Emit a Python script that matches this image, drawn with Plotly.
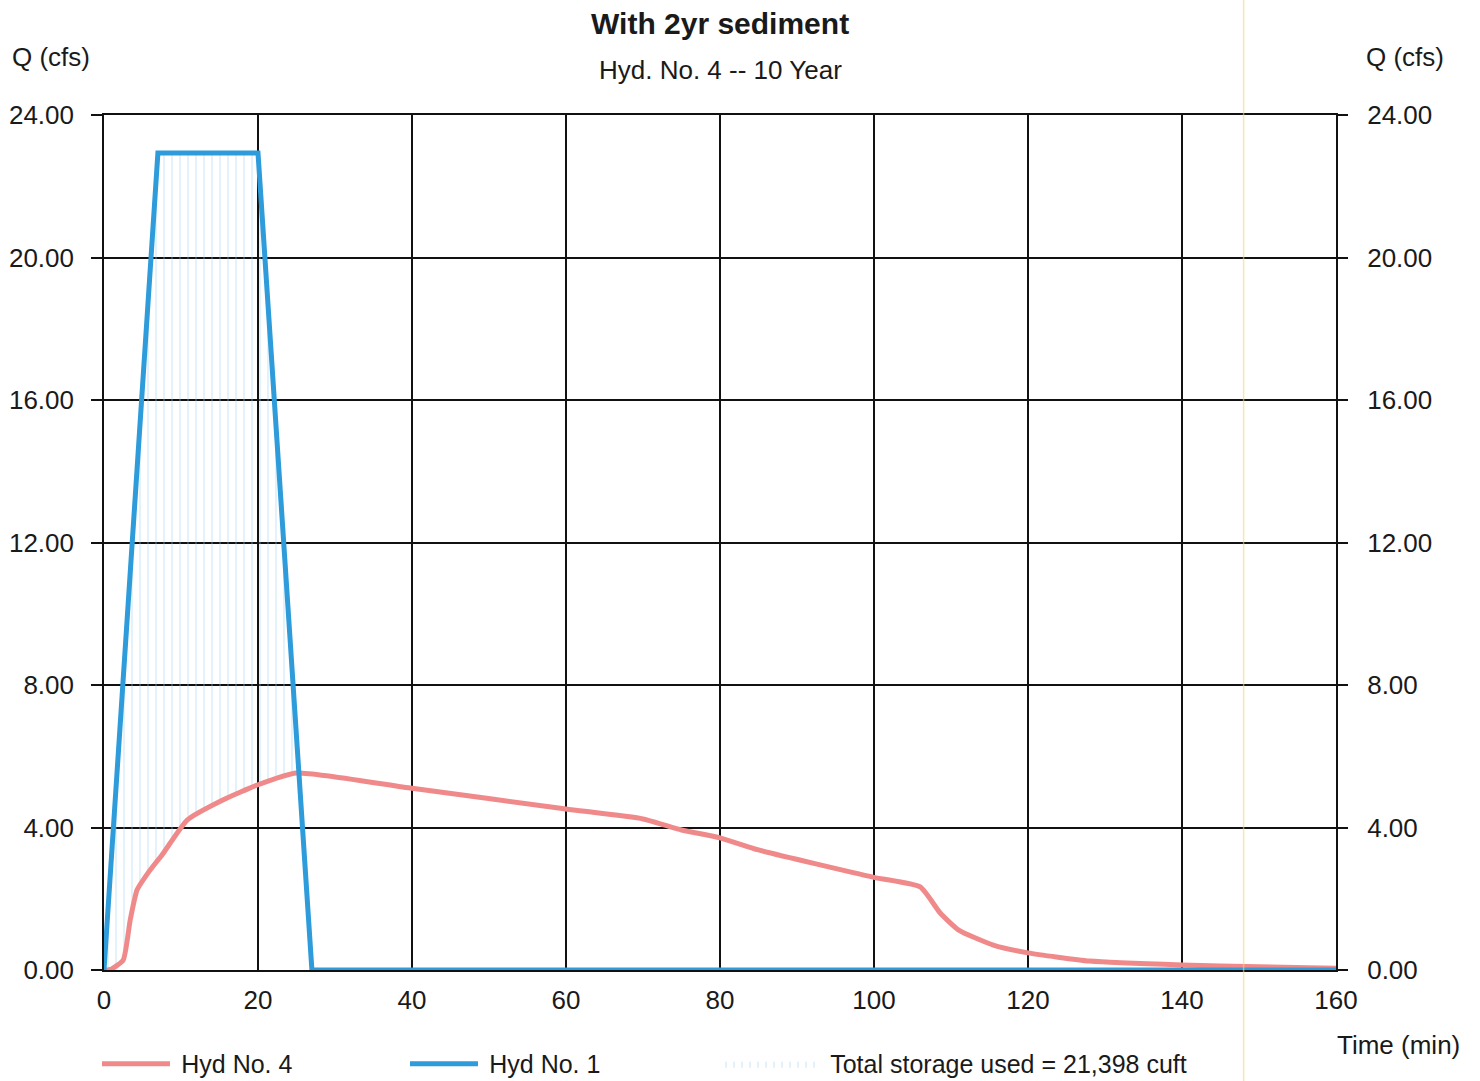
import numpy as np
import plotly.graph_objects as go

# ---- data ----
hyd4_t = [0, 1, 2.5, 3.4, 4.3, 5.7, 7.7, 10.8, 15.5, 20, 25, 40, 60, 70, 75, 80, 85,
          100, 106, 108.6, 111, 115.5, 120, 128, 140, 150, 160]
hyd4_q = [0, 0.03, 0.28, 1.4, 2.25, 2.72, 3.28, 4.21, 4.78, 5.2, 5.53, 5.1, 4.52, 4.24, 3.93,
          3.71, 3.37, 2.6, 2.33, 1.6, 1.12, 0.7, 0.48, 0.25, 0.14, 0.09, 0.05]
hyd1_t = [0, 7, 20, 27, 160]
hyd1_q = [0, 22.93, 22.93, 0, 0]
x_ticks = [0, 20, 40, 60, 80, 100, 120, 140, 160]
y_ticks = [0, 4, 8, 12, 16, 20, 24]
storage_label = "Total storage used = 21,398 cuft"

RED = "#F08A8A"
BLUE = "#2E9BDA"
FONT = "Arial, Liberation Sans, sans-serif"
GAP = "\u2005"

# storage band between inflow (Hyd No. 1) and outflow (Hyd No. 4)
tg = np.linspace(0, 27, 541)
red_g = np.interp(tg, hyd4_t, hyd4_q)
blue_g = np.interp(tg, hyd1_t, hyd1_q)
top_g = np.maximum(red_g, blue_g)

fig = go.Figure()
fig.add_trace(go.Scatter(x=tg, y=red_g, mode="lines", line=dict(width=0, color="rgba(0,0,0,0)"),
                         showlegend=False, hoverinfo="skip"))
fig.add_trace(go.Scatter(x=tg, y=top_g, mode="lines", line=dict(width=0, color="rgba(0,0,0,0)"),
                         fill="tonexty", fillcolor="rgba(255,255,255,0)",
                         fillpattern=dict(shape="|", fgcolor="#9ACFEE", bgcolor="rgba(255,255,255,0)",
                                          size=8, solidity=0.14),
                         name=GAP + storage_label, legend="legend3"))
fig.add_trace(go.Scatter(x=hyd4_t, y=hyd4_q, mode="lines",
                         line=dict(color=RED, width=5, shape="spline", smoothing=0.5),
                         name=GAP + "Hyd No. 4", legend="legend"))
fig.add_trace(go.Scatter(x=hyd1_t, y=hyd1_q, mode="lines", line=dict(color=BLUE, width=5),
                         name=GAP + "Hyd No. 1", legend="legend2"))
# right-hand axis mirror (invisible trace)
fig.add_trace(go.Scatter(x=[0, 160], y=[0, 24], yaxis="y2", mode="markers",
                         marker=dict(opacity=0), showlegend=False, hoverinfo="skip"))

leg_common = dict(orientation="h", xanchor="left", y=-0.1099, yanchor="middle",
                  itemwidth=68, font=dict(size=25), bgcolor="rgba(0,0,0,0)")

fig.update_layout(
    width=1480, height=1081,
    margin=dict(l=104, r=144, t=115, b=111, autoexpand=False),
    paper_bgcolor="white", plot_bgcolor="white",
    font=dict(family=FONT, size=26, color="#1a1a1a"),
    xaxis=dict(range=[0, 160], tickvals=x_ticks, ticktext=[str(v) for v in x_ticks],
               showgrid=True, gridcolor="#111", gridwidth=1.6, zeroline=False,
               showline=True, linecolor="#111", linewidth=1.6, mirror=True,
               ticks="", ticklabelstandoff=6),
    yaxis=dict(range=[0, 24], tickvals=y_ticks, ticktext=[f"{v:.2f}" for v in y_ticks],
               showgrid=True, gridcolor="#111", gridwidth=1.6, zeroline=False,
               showline=True, linecolor="#111", linewidth=1.6, mirror=True,
               ticks="outside", ticklen=11, tickcolor="#111", tickwidth=1.6,
               ticklabelstandoff=12),
    yaxis2=dict(range=[0, 24], tickvals=y_ticks, ticktext=[f"{v:.2f}" for v in y_ticks],
                overlaying="y", side="right", showgrid=False, zeroline=False,
                ticks="outside", ticklen=11, tickcolor="#111", tickwidth=1.6,
                ticklabelstandoff=14),
    legend=dict(x=-0.0057, **leg_common),
    legend2=dict(x=0.2443, **leg_common),
    legend3=dict(x=0.4951, **{**leg_common, "itemwidth": 100}),
    showlegend=True,
)

fig.add_annotation(text="<b>With 2yr sediment</b>", xref="paper", yref="paper", x=0.5, y=1.1076,
                   showarrow=False, font=dict(size=30), xanchor="center", yanchor="middle")
fig.add_annotation(text="Hyd. No. 4 -- 10 Year", xref="paper", yref="paper", x=0.5, y=1.0526,
                   showarrow=False, font=dict(size=26), xanchor="center", yanchor="middle")
fig.add_annotation(text="Q (cfs)", xref="paper", yref="paper", x=-0.043, y=1.068,
                   showarrow=False, xanchor="center", yanchor="middle")
fig.add_annotation(text="Q (cfs)", xref="paper", yref="paper", x=1.056, y=1.068,
                   showarrow=False, xanchor="center", yanchor="middle")
fig.add_annotation(text="Time (min)", xref="paper", yref="paper", x=1.051, y=-0.0877,
                   showarrow=False, xanchor="center", yanchor="middle")

# faint scan line seen in the reference
fig.add_shape(type="line", xref="x", yref="paper", x0=148, x1=148, y0=-0.14, y1=1.14,
              line=dict(color="rgba(240,215,120,0.6)", width=1.5), layer="above")

fig.write_html("out.html", config={"displayModeBar": False},
               post_script="document.body.style.margin='0';")
